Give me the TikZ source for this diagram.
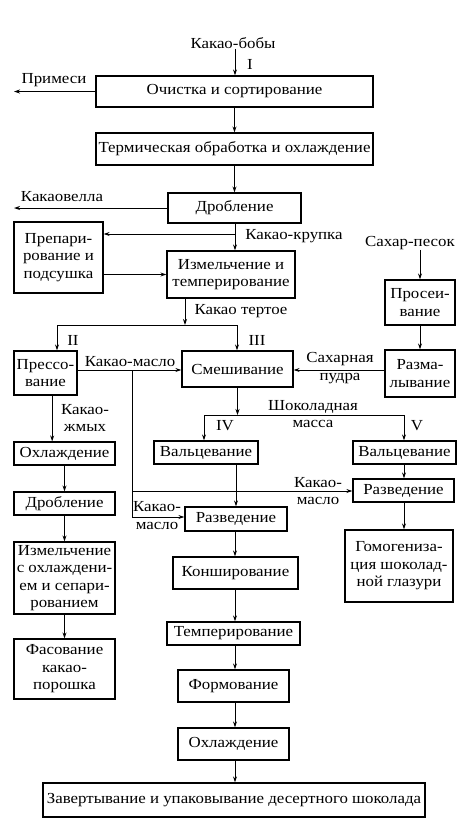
\documentclass[tikz,border=0pt]{standalone}
\usepackage{fontspec}
\setmainfont[FakeStretch=1.1]{Liberation Serif}
\usetikzlibrary{arrows.meta}
\tikzset{
  box/.style={draw, line width=0.9pt, inner sep=0pt, align=center},
  wh/.style 2 args={minimum width=#1*0.75pt, minimum height=#2*0.75pt},
  lbl/.style={inner sep=0pt, align=center},
  conn/.style={line width=0.75pt},
  arr/.style={line width=0.75pt, -{Stealth[length=4.5pt,width=3pt]}},
}
\begin{document}
\begin{tikzpicture}[x=0.75pt,y=-0.75pt,font=\fontsize{11.5}{13.1}\selectfont]
\useasboundingbox (0,0) rectangle (470,833);
% boxes
\node[box,wh={277}{31}] (b1) at (234.5,91.5) {Очистка и сортирование};
\node[box,wh={277}{32}] (b2) at (234.5,149) {Термическая обработка и охлаждение};
\node[box,wh={133}{30}] (b3) at (234.5,208) {Дробление};
\node[box,wh={89}{71}] (prep) at (58.5,257.5) {Препари-\\рование и\\подсушка};
\node[box,wh={128}{47}] (izm) at (231,274.5) {Измельчение и\\темперирование};
\node[box,wh={70}{45}] (pros) at (420,302.5) {Просеи-\\вание};
\node[box,wh={70}{47}] (razm) at (420,373.5) {Разма-\\лывание};
\node[box,wh={63}{44}] (press) at (45.5,373) {Прессо-\\вание};
\node[box,wh={111}{36}] (smesh) at (237.5,369) {Смешивание};
\node[box,wh={104}{23}] (val4) at (206,452.5) {Вальцевание};
\node[box,wh={103}{23}] (val5) at (404.5,452.5) {Вальцевание};
\node[box,wh={101}{23}] (razv5) at (403.5,490.5) {Разведение};
\node[box,wh={102}{24}] (razv4) at (236,519) {Разведение};
\node[box,wh={125}{32}] (konsh) at (235.5,573) {Конширование};
\node[box,wh={133}{23}] (temp) at (233.5,633.5) {Темперирование};
\node[box,wh={111}{32}] (form) at (233.5,686) {Формование};
\node[box,wh={111}{32}] (ohl) at (233.5,744) {Охлаждение};
\node[box,wh={382}{34}] (last) at (234,800) {Завертывание и упаковывание десертного шоколада};
\node[box,wh={101}{23}] (ohlL) at (64.5,453.5) {Охлаждение};
\node[box,wh={101}{23}] (drobL) at (64.5,503.5) {Дробление};
\node[box,wh={101}{72}] (izmL) at (64.5,578) {Измельчение\\с охлаждени-\\ем и сепари-\\рованием};
\node[box,wh={101}{60}] (fas) at (64.5,669) {Фасование\\какао-\\порошка};
\node[box,wh={108}{72}] (gomo) at (399,566) {Гомогениза-\\ция шоколад-\\ной глазури};
% labels
\node[lbl] (kbt) at (233,43) {Какао-бобы};
\node[lbl] (n1) at (250,64) {I};
\node[lbl] (prim) at (54,80) {Примеси};
\node[lbl] (kvel) at (62,197) {Какаовелла};
\node[lbl] (kkr) at (294,236) {Какао-крупка};
\node[lbl] (sp) at (410,243) {Сахар-песок};
\node[lbl] (ktert) at (241,311) {Какао тертое};
\node[lbl] (n2) at (73,340) {II};
\node[lbl] (n3) at (257,340) {III};
\node[lbl] (kmas) at (130,362) {Какао-масло};
\node[lbl] (sahp) at (340,368) {Сахарная\\пудра};
\node[lbl] (kzh) at (85,418) {Какао-\\жмых};
\node[lbl] (shm) at (313,414) {Шоколадная\\масса};
\node[lbl] (n4) at (225,426) {IV};
\node[lbl] (n5) at (417,426) {V};
\node[lbl] (km5) at (318,491) {Какао-\\масло};
\node[lbl] (km4) at (157,515.5) {Какао-\\масло};
% coordinates
\coordinate (primE) at (14,91.5);
\coordinate (kvelE) at (14,208);
\coordinate (kk) at (235,234);
\coordinate (jn) at (185,325);
\coordinate (jL) at (57,325);
\coordinate (jR) at (237,325);
\coordinate (km1) at (132,370);
\coordinate (km2) at (132,491);
\coordinate (km3) at (132,517);
\coordinate (jn2) at (237.5,415);
\coordinate (jL2) at (204,415);
\coordinate (jR2) at (404,415);
\coordinate (pa) at ([xshift=5pt]press.south);
% connectors
\draw[arr] (kbt.south -| kk) -- (kk |- b1.north);
\draw[arr] (b1.west) -- (primE);
\draw[arr] (b1) -- (b2);
\draw[arr] (b2) -- (b3);
\draw[arr] (b3.west) -- (kvelE);
\draw[arr] (b3.south -| kk) -- (kk |- izm.north);
\draw[arr] (kk) -- (kk -| prep.east);
\draw[arr] (prep.east |- izm) -- (izm.west);
\draw[arr] (sp.south -| pros) -- (pros.north);
\draw[arr] (pros) -- (razm);
\draw[arr] (izm.south -| jn) -- (jn);
\draw[conn] (jL) -- (jR);
\draw[arr] (jL) -- (jL |- press.north);
\draw[arr] (jR) -- (jR |- smesh.north);
\draw[arr] (press.east |- km1) -- (km1 -| smesh.west);
\draw[conn] (km1) -- (km3);
\draw[arr] (km2) -- (km2 -| razv5.west);
\draw[arr] (km3) -- (km3 -| razv4.west);
\draw[arr] (razm.west |- km1) -- (km1 -| smesh.east);
\draw[arr] (smesh.south -| jn2) -- (jn2);
\draw[conn] (jL2) -- (jR2);
\draw[arr] (jL2) -- (jL2 |- val4.north);
\draw[arr] (jR2) -- (jR2 |- val5.north);
\draw[arr] (val4.south -| razv4) -- (razv4.north);
\draw[arr] (val5.south -| jR2) -- (jR2 |- razv5.north);
\draw[arr] (razv5.south -| jR2) -- (jR2 |- gomo.north);
\draw[arr] (razv4.south -| kk) -- (kk |- konsh.north);
\draw[arr] (konsh.south -| kk) -- (kk |- temp.north);
\draw[arr] (temp.south -| kk) -- (kk |- form.north);
\draw[arr] (form.south -| kk) -- (kk |- ohl.north);
\draw[arr] (ohl.south -| kk) -- (kk |- last.north);
\draw[arr] (pa) -- (pa |- ohlL.north);
\draw[arr] (ohlL) -- (drobL);
\draw[arr] (drobL) -- (izmL);
\draw[arr] (izmL) -- (fas);
\end{tikzpicture}
\end{document}
